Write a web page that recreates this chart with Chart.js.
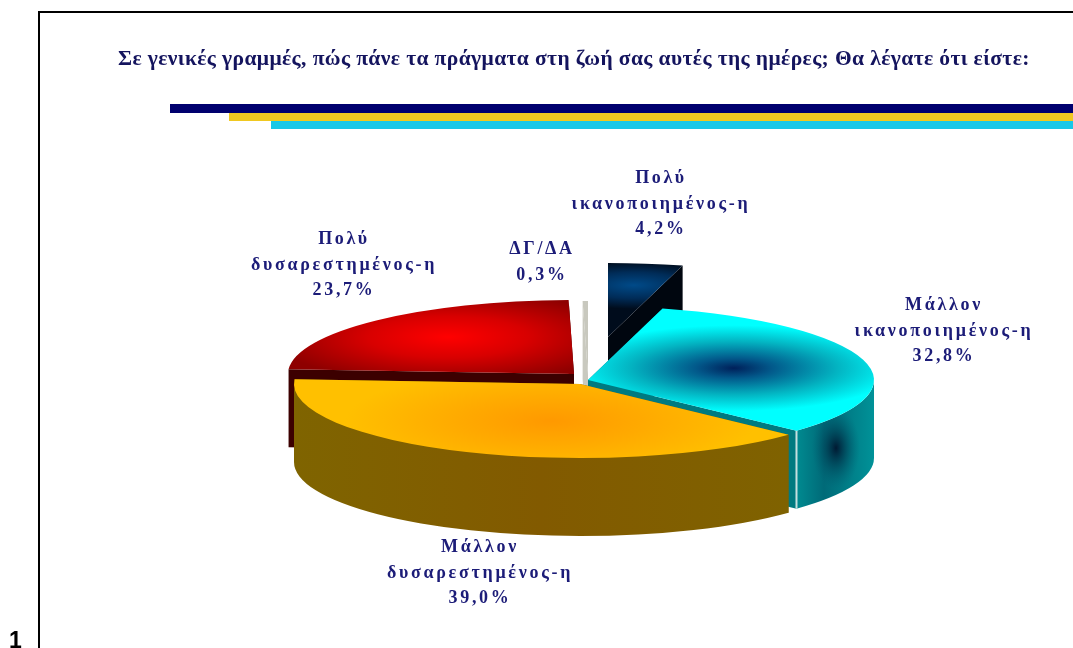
<!DOCTYPE html>
<html>
<head>
<meta charset="utf-8">
<title>Pie</title>
<script src="https://cdn.jsdelivr.net/npm/chart.js@4"></script>
<style>
  html, body { margin: 0; padding: 0; background: #fff; overflow: hidden; }
  canvas { display: block; }
</style>
</head>
<body>
<canvas id="satisfactionPie" width="1073" height="648"></canvas>
<script>
const titleText = 'Σε γενικές γραμμές, πώς πάνε τα πράγματα στη ζωή σας αυτές της ημέρες; Θα λέγατε ότι είστε:';
const categories = ['Πολύ ικανοποιημένος-η', 'Μάλλον ικανοποιημένος-η', 'Μάλλον δυσαρεστημένος-η', 'Πολύ δυσαρεστημένος-η', 'ΔΓ/ΔΑ'];
const shares = [4.2, 32.8, 39.0, 23.7, 0.3];

// where each exploded slice sits on the page, and how the pie is tilted
const sliceCentres = [[608, 337], [588, 380], [580, 384], [574, 374], [588, 375]];
const labelCentres = [[661, 177], [944, 304], [480, 546], [344, 238], [542, 248]];
const drawOrder = [0, 4, 3, 1, 2];
const radiusX = 286, radiusY = 74, depth = 78;
const sideColors = ['#00060f', '#007a80', '#7d6000', '#3c0000', '#c9c9bf'];
const wallColors = ['#00060f', '#008a90', '#7f6000', '#3c0000', '#c9c9bf'];

function sliceFill(c) {
    const area = c.chart.chartArea;
    const fallback = ['#002a55', '#00ffff', '#ffc000', '#c00000', '#d8d8d0'][c.dataIndex];
    if (!area) return fallback;
    const ctx = c.chart.ctx;
    const cx = (area.left + area.right) / 2, cy = (area.top + area.bottom) / 2;
    const r = Math.min(area.width, area.height) / 2;
    const radial = (ox, oy, size, stops) => {
        const g = ctx.createRadialGradient(cx + ox * r, cy + oy * r, 0, cx + ox * r, cy + oy * r, size * r);
        stops.forEach(s => g.addColorStop(s[0], s[1]));
        return g;
    };
    if (c.dataIndex === 0) return radial(0.09, -0.7, 0.32, [[0, '#004a88'], [0.55, '#002c58'], [1, '#000c1c']]);
    if (c.dataIndex === 1) return radial(0.51, -0.16, 0.66, [[0, '#00205a'], [0.2, '#02588a'], [0.55, '#03b4c2'], [0.88, '#00ffff'], [1, '#00ffff']]);
    if (c.dataIndex === 2) return radial(-0.1, 0.5, 0.72, [[0, '#ff9900'], [0.45, '#ffaa00'], [1, '#ffc000']]);
    if (c.dataIndex === 3) return radial(-0.44, -0.5, 0.62, [[0, '#ff0000'], [0.45, '#d80000'], [1, '#8e0000']]);
    return '#c8c8be';
}

function paintFrame(ctx) {
    ctx.fillStyle = '#000';
    ctx.fillRect(38, 11, 1035, 2);
    ctx.fillRect(38, 11, 2, 637);
    ctx.fillStyle = '#00006e';
    ctx.fillRect(170, 104, 903, 9);
    ctx.fillStyle = '#f0c820';
    ctx.fillRect(229, 113, 844, 8);
    ctx.fillStyle = '#18c8e8';
    ctx.fillRect(271, 121, 802, 8);
}

function paintText(ctx) {
    ctx.textBaseline = 'alphabetic';
    ctx.fillStyle = '#000';
    ctx.textAlign = 'left';
    ctx.font = 'bold 23px "Liberation Sans"';
    ctx.fillText('1', 9, 648);

    ctx.fillStyle = '#14145e';
    ctx.font = 'bold 21.5px "Liberation Serif"';
    ctx.letterSpacing = '0.4px';
    ctx.fillText(titleText, 118, 65);

    ctx.fillStyle = '#1c1c78';
    ctx.textAlign = 'center';
    ctx.font = 'bold 18px "Liberation Serif"';
    ctx.letterSpacing = '2.7px';
    categories.forEach((name, i) => {
        const lines = name.split(' ');
        lines.push(shares[i].toFixed(1).replace('.', ',') + '%');
        lines.forEach((line, k) => {
            ctx.fillText(line, labelCentres[i][0], labelCentres[i][1] + 6 + k * 25.5);
        });
    });
    ctx.letterSpacing = '0px';
}

function wallPath(ctx, cx, cy, from, to) {
    ctx.beginPath();
    ctx.ellipse(cx, cy, radiusX, radiusY, 0, from, to);
    ctx.ellipse(cx, cy + depth, radiusX, radiusY, 0, to, from, true);
    ctx.closePath();
}

function paintSide(ctx, i, cx, cy, angle) {
    const x = cx + radiusX * Math.cos(angle), y = cy + radiusY * Math.sin(angle);
    ctx.beginPath();
    ctx.moveTo(cx, cy);
    ctx.lineTo(x, y);
    ctx.lineTo(x, y + depth);
    ctx.lineTo(cx, cy + depth);
    ctx.closePath();
    ctx.fillStyle = sideColors[i];
    ctx.fill();
}

function paintWall(ctx, i, cx, cy, start, end) {
    // only the part of the rim facing the viewer
    const from = Math.max(start, 0), to = Math.min(end, Math.PI);
    if (to <= from) return;
    wallPath(ctx, cx, cy, from, to);
    if (i === 1) {
        const g = ctx.createLinearGradient(797, 0, 874, 0);
        g.addColorStop(0, '#008a90');
        g.addColorStop(0.35, '#006a78');
        g.addColorStop(1, '#009298');
        ctx.fillStyle = g;
        ctx.fill();
        ctx.save();
        ctx.clip();
        ctx.translate(836, 448);
        ctx.scale(1, 1.7);
        const spot = ctx.createRadialGradient(0, 0, 0, 0, 0, 24);
        spot.addColorStop(0, 'rgba(0,25,50,1)');
        spot.addColorStop(1, 'rgba(0,90,110,0)');
        ctx.fillStyle = spot;
        ctx.fillRect(-40, -40, 80, 80);
        ctx.restore();
        const xe = cx + radiusX * Math.cos(to), ye = cy + radiusY * Math.sin(to);
        ctx.strokeStyle = '#c5dfdf';
        ctx.lineWidth = 2;
        ctx.beginPath();
        ctx.moveTo(xe, ye);
        ctx.lineTo(xe, ye + depth);
        ctx.stroke();
        return;
    }
    if (i === 2) {
        const g = ctx.createLinearGradient(292, 0, 790, 0);
        g.addColorStop(0, '#7f6400');
        g.addColorStop(0.5, '#825a00');
        g.addColorStop(1, '#7f6200');
        ctx.fillStyle = g;
    } else {
        ctx.fillStyle = wallColors[i];
    }
    ctx.fill();
}

const tiltedPie = {
    id: 'tiltedPie',
    beforeDraw(chart) {
        paintFrame(chart.ctx);
    },
    beforeDatasetDraw(chart) {
        const ctx = chart.ctx;
        const arcs = chart.getDatasetMeta(0).data;
        drawOrder.forEach(i => {
            const arc = arcs[i];
            const [cx, cy] = sliceCentres[i];
            paintSide(ctx, i, cx, cy, arc.startAngle);
            paintSide(ctx, i, cx, cy, arc.endAngle);
            paintWall(ctx, i, cx, cy, arc.startAngle, arc.endAngle);
            ctx.save();
            ctx.translate(cx, cy);
            ctx.scale(radiusX / arc.outerRadius, radiusY / arc.outerRadius);
            ctx.translate(-arc.x, -arc.y);
            arc.draw(ctx);
            ctx.restore();
        });
        return false;
    },
    afterDraw(chart) {
        paintText(chart.ctx);
    }
};

new Chart(document.getElementById('satisfactionPie').getContext('2d'), {
    type: 'pie',
    data: {
        labels: categories,
        datasets: [{
            label: 'Ικανοποίηση',
            data: shares,
            backgroundColor: sliceFill,
            borderWidth: 0,
            hoverOffset: 0
        }]
    },
    options: {
        responsive: false,
        animation: false,
        events: [],
        rotation: 0,
        layout: { padding: 0 },
        plugins: {
            legend: { display: false },
            title: { display: false },
            tooltip: { enabled: false }
        }
    },
    plugins: [tiltedPie]
});
</script>
</body>
</html>
